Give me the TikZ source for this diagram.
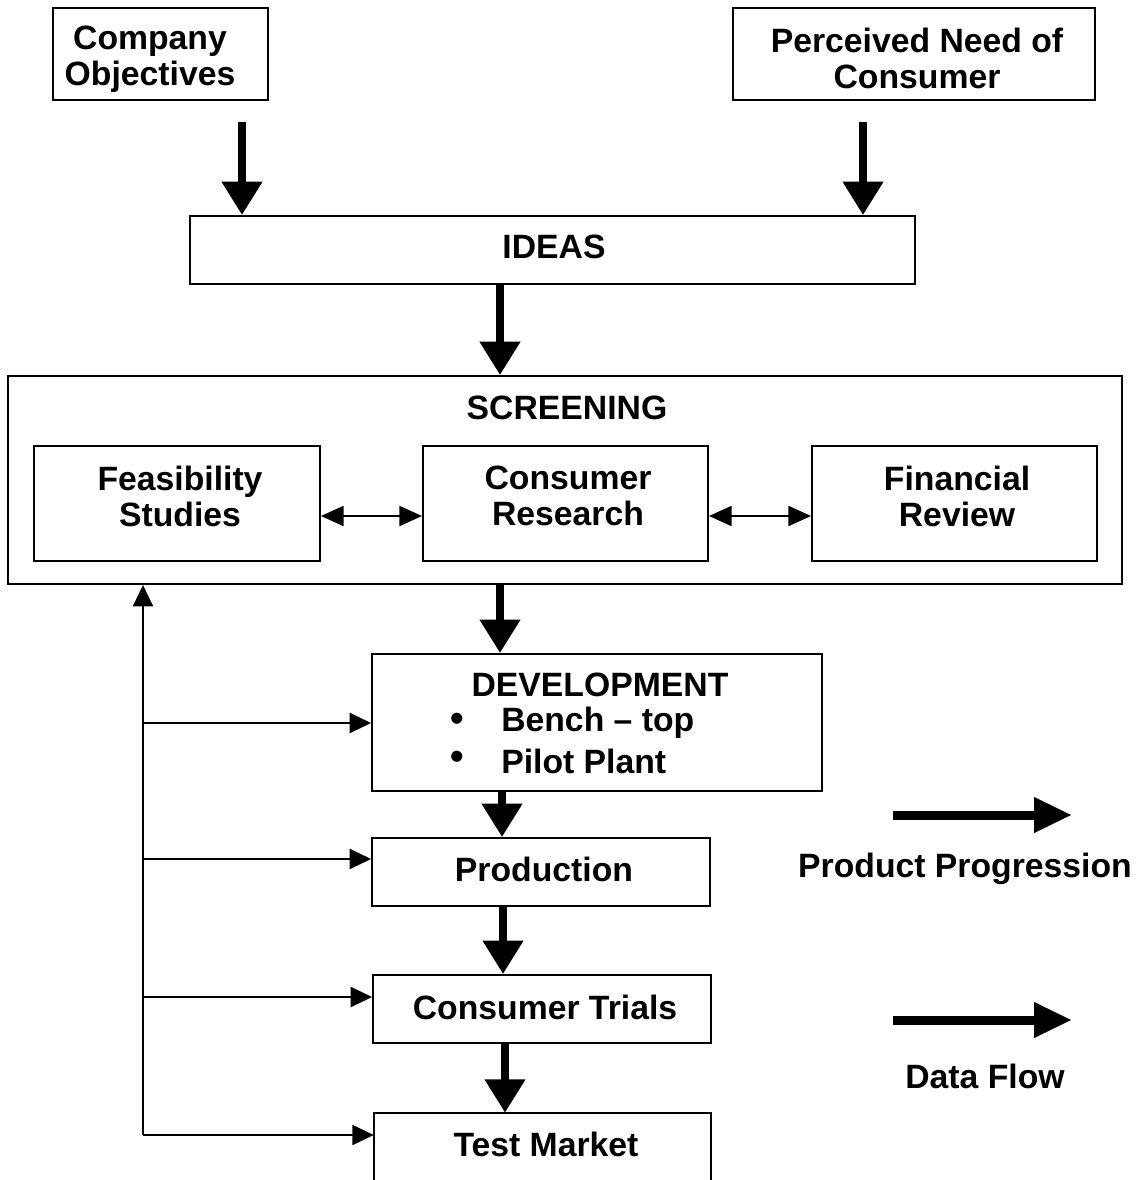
\documentclass[tikz,border=0pt]{standalone}
\usepackage{fontspec}
\setmainfont{Liberation Sans}
\usetikzlibrary{arrows.meta}
\tikzset{
  box/.style={draw=black, line width=1.4pt, rectangle, inner sep=0pt},
  lbl/.style={font=\fontsize{25.3}{27}\selectfont\bfseries, align=center, inner sep=0pt},
  bul/.style={font=\fontsize{29}{29}\selectfont\bfseries, inner sep=0pt},
  bigarrow/.style={line width=6pt, -{Triangle[length=25pt,width=29pt]}},
  legarrow/.style={line width=6.75pt, -{Triangle[length=28.5pt,width=25pt]}},
  thinarrow/.style={line width=1.4pt, -{Triangle[length=16pt,width=15pt]}},
  dblarrow/.style={line width=1.4pt, {Triangle[length=17pt,width=15pt]}-{Triangle[length=17pt,width=15pt]}},
  plainline/.style={line width=1.4pt}
}
\begin{document}
\begin{tikzpicture}[x=0.75pt,y=-0.75pt]
\useasboundingbox (0,0) rectangle (1140,1180);
\fill[white] (0,0) rectangle (1140,1180);
\clip (0,0) rectangle (1140,1180);

% boxes
\node[box, minimum width=161.25pt, minimum height=69pt] (comp) at (160.5,54) {};
\node[box, minimum width=271.5pt, minimum height=69pt] (need) at (914,54) {};
\node[box, minimum width=543.75pt, minimum height=51pt] (ideas) at (552.5,250) {};
\node[box, minimum width=835.5pt, minimum height=156pt] (screen) at (565,480) {};
\node[box, minimum width=214.5pt, minimum height=86.25pt] (feas) at (177,503.5) {};
\node[box, minimum width=213.75pt, minimum height=86.25pt] (cres) at (565.5,503.5) {};
\node[box, minimum width=213.75pt, minimum height=86.25pt] (fin) at (954.5,503.5) {};
\node[box, minimum width=337.5pt, minimum height=102.75pt] (dev) at (597,722.5) {};
\node[box, minimum width=253.5pt, minimum height=51pt] (prod) at (541,872) {};
\node[box, minimum width=253.5pt, minimum height=51pt] (trials) at (542,1009) {};
\node[rectangle, inner sep=0pt, minimum width=252.75pt, minimum height=60pt] (test) at (542.5,1153) {};
\draw[plainline] (test.south west) -- (test.north west) -- (test.north east) -- (test.south east);

% texts
\node[lbl] (tcomp) at (150,59) {Company\\Objectives};
\node[lbl] (tneed) at (917,58) {Perceived Need of\\Consumer};
\node[lbl] (tideas) at (554,247) {IDEAS};
\node[lbl] (tscreen) at (567,408) {SCREENING};
\node[lbl] (tfeas) at (180,496) {Feasibility\\Studies};
\node[lbl] (tcres) at (568,496) {Consumer\\Research};
\node[lbl] (tfin) at (957,496) {Financial\\Review};
\node[lbl] (tdev) at (600,685) {DEVELOPMENT};
\node[bul] (b1) at (457,722) {•};
\node[lbl, anchor=west] (tb1) at (501,723) {Bench – top};
\node[bul] (b2) at (457,760) {•};
\node[lbl, anchor=west] (tb2) at (501,761) {Pilot Plant};
\node[lbl] (tprod) at (544,869) {Production};
\node[lbl] (ttrials) at (545,1007) {Consumer Trials};
\node[lbl] (ttest) at (546,1144) {Test Market};
\node[lbl] (tpp) at (965,869) {Product Progression};
\node[lbl] (tdf) at (985,1076) {Data Flow};

% thick progression arrows
\coordinate (s1) at (242,122);
\coordinate (s2) at (863,122);
\draw[bigarrow] (s1) -- (s1 |- ideas.north);
\draw[bigarrow] (s2) -- (s2 |- ideas.north);
\draw[bigarrow] (ideas.south -| 500,0) -- (screen.north -| 500,0);
\draw[bigarrow] (screen.south -| 500,0) -- (dev.north -| 500,0);
\draw[bigarrow] (dev.south -| 502,0) -- (prod.north -| 502,0);
\draw[bigarrow] (prod.south -| 503,0) -- (trials.north -| 503,0);
\draw[bigarrow] (trials.south -| 505,0) -- (test.north -| 505,0);

% double arrows in screening
\draw[dblarrow] (feas.east |- 0,516) -- (cres.west |- 0,516);
\draw[dblarrow] (cres.east |- 0,516) -- (fin.west |- 0,516);

% feedback (data flow)
\coordinate (f1) at (143,723);
\coordinate (f2) at (143,859);
\coordinate (f3) at (143,997);
\coordinate (f4) at (143,1135);
\draw[thinarrow] (f4) -- (f4 |- screen.south);
\draw[thinarrow] (f1) -- (f1 -| dev.west);
\draw[thinarrow] (f2) -- (f2 -| prod.west);
\draw[thinarrow] (f3) -- (f3 -| trials.west);
\draw[thinarrow] (f4) -- (f4 -| test.west);

% legend
\coordinate (l1a) at (893,815);
\coordinate (l1b) at (1072,815);
\coordinate (l2a) at (893,1020);
\coordinate (l2b) at (1072,1020);
\draw[legarrow] (l1a) -- (l1b);
\draw[legarrow] (l2a) -- (l2b);
\end{tikzpicture}
\end{document}
